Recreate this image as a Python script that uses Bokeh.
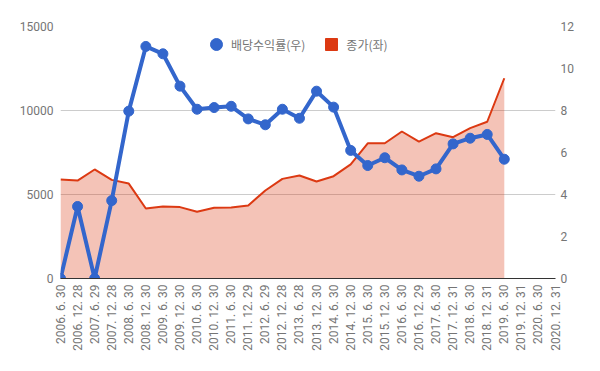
from bokeh.plotting import figure
from bokeh.models import (Range1d, LinearAxis, FixedTicker, Legend, LegendItem, ColumnDataSource)
from bokeh.embed import file_html
from bokeh.resources import INLINE
import math

x_labels = ["2006. 6. 30", "2006. 12. 28", "2007. 6. 29", "2007. 12. 28", "2008. 6. 30",
            "2008. 12. 30", "2009. 6. 30", "2009. 12. 30", "2010. 6. 30", "2010. 12. 30",
            "2011. 6. 30", "2011. 12. 29", "2012. 6. 29", "2012. 12. 28", "2013. 6. 28",
            "2013. 12. 30", "2014. 6. 30", "2014. 12. 30", "2015. 6. 30", "2015. 12. 30",
            "2016. 6. 30", "2016. 12. 29", "2017. 6. 30", "2017. 12. 31", "2018. 6. 30",
            "2018. 12. 31", "2019. 6. 30", "2019. 12. 31", "2020. 6. 30", "2020. 12. 31"]

close_price = [5900, 5830, 6490, 5870, 5650, 4170, 4290, 4250, 3970, 4210, 4230, 4350, 5240,
               5930, 6130, 5770, 6090, 6790, 8050, 8050, 8750, 8150, 8650, 8410, 8950, 9330, 11920]

div_yield = [0, 3.43, 0, 3.71, 7.97, 11.05, 10.7, 9.16, 8.06, 8.14, 8.2, 7.6, 7.32, 8.06, 7.63,
             8.92, 8.16, 6.10, 5.38, 5.75, 5.17, 4.87, 5.22, 6.41, 6.68, 6.86, 5.68]

left_ticks = [0, 5000, 10000, 15000]
right_ticks = [0, 2, 4, 6, 8, 10, 12]

label_yield = "배당수익률(우)"
label_price = "종가(좌)"

BLUE = "#3366cc"
RED = "#dc3912"
TXT = "#757575"
FONT = "Roboto"
KFONT = "Noto Sans CJK KR"

n = len(close_price)
idx = list(range(n))
src = ColumnDataSource(dict(x=idx, price=close_price, yld=div_yield))

p = figure(width=584, height=355, output_backend="svg", toolbar_location=None,
           x_range=Range1d(0, len(x_labels) - 1), y_range=Range1d(0, 15000),
           min_border_left=60, min_border_right=29, min_border_top=26, min_border_bottom=77)
p.extra_y_ranges = {"right": Range1d(0, 12)}
p.outline_line_color = None
p.background_fill_color = "white"
p.border_fill_color = "white"

# area + line for price
p.varea(x="x", y1=0, y2="price", source=src, fill_color=RED, fill_alpha=0.3)
p.line(x="x", y="price", source=src, line_color=RED, line_width=2)

# dividend yield on right axis
p.line(x="x", y="yld", source=src, line_color=BLUE, line_width=4, y_range_name="right")
r_pts = p.scatter(x="x", y="yld", source=src, size=10, fill_color=BLUE, line_color=BLUE,
                  y_range_name="right")

# legend square proxy (not drawn in the plot: NaN position)
sq_src = ColumnDataSource(dict(x=[float("nan")], y=[float("nan")]))
r_sq = p.scatter(x="x", y="y", source=sq_src, marker="square", size=12,
                 fill_color=RED, line_color=RED)

# axes
p.xaxis.ticker = FixedTicker(ticks=list(range(len(x_labels))))
p.xaxis.major_label_overrides = {i: s for i, s in enumerate(x_labels)}
p.xaxis.major_label_orientation = math.pi / 2
p.xaxis.axis_line_color = "#333333"
p.xaxis.axis_line_width = 1
p.xaxis.major_tick_line_color = None
p.xaxis.minor_tick_line_color = None
p.xaxis.major_tick_out = 0
p.xaxis.major_tick_in = 0
p.xaxis.major_label_standoff = 6
p.xaxis.major_label_text_font = FONT
p.xaxis.major_label_text_font_size = "12px"
p.xaxis.major_label_text_color = TXT

p.yaxis.ticker = FixedTicker(ticks=left_ticks)
p.yaxis.axis_line_color = None
p.yaxis.major_tick_line_color = None
p.yaxis.minor_tick_line_color = None
p.yaxis.major_tick_out = 0
p.yaxis.major_tick_in = 0
p.yaxis.major_label_standoff = 7
p.yaxis.major_label_text_font = FONT
p.yaxis.major_label_text_font_size = "12px"
p.yaxis.major_label_text_color = TXT

ry = LinearAxis(y_range_name="right", ticker=FixedTicker(ticks=right_ticks))
ry.axis_line_color = None
ry.major_tick_line_color = None
ry.minor_tick_line_color = None
ry.major_tick_out = 0
ry.major_tick_in = 0
ry.major_label_standoff = 5
ry.major_label_text_font = FONT
ry.major_label_text_font_size = "12px"
ry.major_label_text_color = TXT
p.add_layout(ry, "right")

p.xgrid.grid_line_color = None
p.ygrid.ticker = FixedTicker(ticks=left_ticks)
p.ygrid.grid_line_color = "#cccccc"

legend = Legend(items=[LegendItem(label=label_yield, renderers=[r_pts]),
                       LegendItem(label=label_price, renderers=[r_sq])],
                orientation="horizontal", location=(141, 219),
                glyph_width=30, glyph_height=30, label_height=30, label_standoff=0,
                spacing=11, padding=0, margin=0,
                background_fill_alpha=0, border_line_color=None,
                label_text_font=KFONT, label_text_font_size="12px", label_text_color=TXT)
p.add_layout(legend)

open("out.html", "w").write(file_html(p, INLINE))
